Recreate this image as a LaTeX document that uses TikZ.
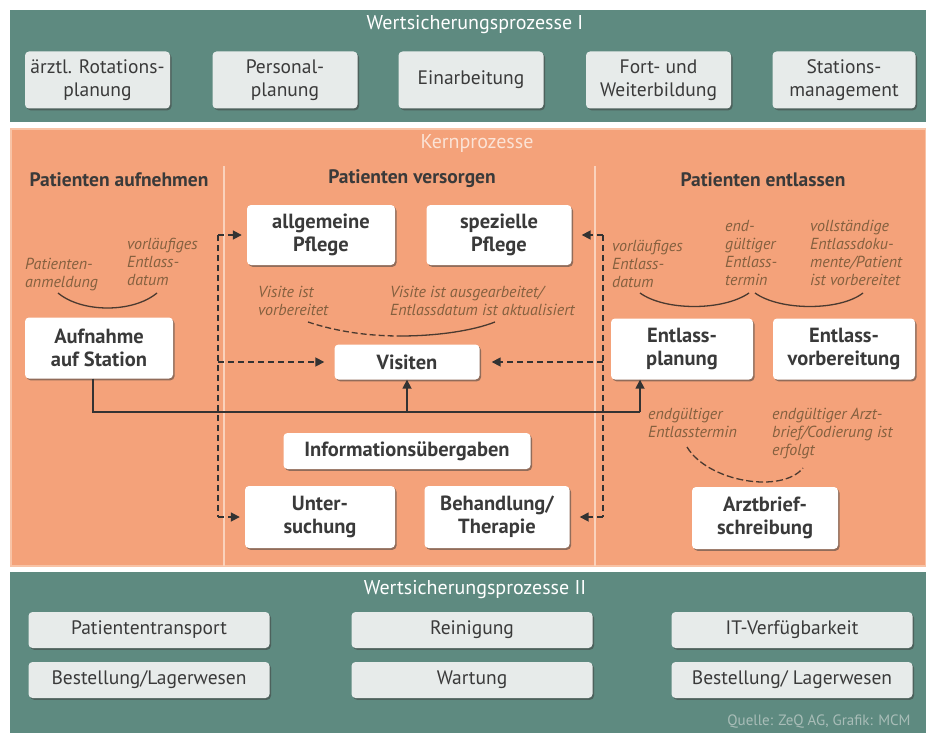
\documentclass[tikz,border=0pt]{standalone}
\usepackage{fontspec}
\setmainfont{PT Sans}
\usetikzlibrary{arrows.meta,shadows}
\definecolor{bandteal}{HTML}{5E8A80}
\definecolor{coreorange}{HTML}{F4A27A}
\definecolor{coreedge}{HTML}{F8C3A6}
\definecolor{sepcol}{HTML}{FAD2BC}
\definecolor{boxgray}{HTML}{E7EBEA}
\definecolor{txtdark}{HTML}{3A3A3A}
\definecolor{lblcol}{HTML}{84603F}
\definecolor{linedark}{HTML}{333333}
\definecolor{arccol}{HTML}{4A3A30}
\definecolor{kerncol}{HTML}{FBE3D6}
\definecolor{srccol}{HTML}{A9BDB8}
\begin{document}
\begin{tikzpicture}[x=1pt,y=-1pt,
  box/.style={rounded corners=4pt, align=center, inner sep=0pt, text=txtdark,
    drop shadow={shadow xshift=1.5pt, shadow yshift=-1.8pt, opacity=0.55, fill=black!75}},
  graybox/.style={box, fill=boxgray, font=\fontsize{19.5}{23}\selectfont},
  lowbox/.style={box, fill=boxgray, font=\fontsize{19.5}{22}\selectfont, minimum width=241pt, minimum height=36pt},
  whitebox/.style={box, fill=white, font=\bfseries\fontsize{20.5}{23}\selectfont},
  lbl/.style={font=\itshape\fontsize{16}{18}\selectfont, text=lblcol, align=left, inner sep=0pt, anchor=north west},
  head/.style={font=\bfseries\fontsize{19.5}{22}\selectfont, text=txtdark},
  titl/.style={font=\fontsize{20}{22}\selectfont},
  dline/.style={dashed, dash pattern=on 6pt off 4pt, line width=1.7pt, draw=linedark},
  sline/.style={line width=1.7pt, draw=linedark},
  arcline/.style={line width=1.3pt, draw=arccol},
  arr/.style={-{Triangle[length=9pt,width=9pt]}}
]
\useasboundingbox (0,0) rectangle (926,733);
\fill[white] (0,0) rectangle (926,733);
% bands
\fill[bandteal] (10,10) rectangle (926,122);
\fill[coreorange, draw=coreedge, line width=2pt] (11,129) rectangle (926,566);
\fill[bandteal] (10,572) rectangle (926,733);
% separators
\draw[sepcol, line width=2pt] (224,166) -- (224,566);
\draw[sepcol, line width=2pt] (595,166) -- (595,566);

% titles
\node[titl, text=white] (wp1) at (475,25) {Wertsicherungsprozesse I};
\node[titl, text=kerncol] (kern) at (477,144) {Kernprozesse};
\node[titl, text=white] (wp2) at (475,590) {Wertsicherungsprozesse II};
\node[text=srccol, font=\fontsize{15}{17}\selectfont] (src) at (819,722) {Quelle: ZeQ AG, Grafik: MCM};

% top boxes
\node[graybox, minimum width=145pt, minimum height=57pt] (t1) at (97.5,80) {ärztl. Rotations-\\planung};
\node[graybox, minimum width=145pt, minimum height=57pt] (t2) at (285,80) {Personal-\\planung};
\node[graybox, minimum width=145pt, minimum height=57pt] (t3) at (471,80) {Einarbeitung};
\node[graybox, minimum width=145pt, minimum height=57pt] (t4) at (658.5,80) {Fort- und\\Weiterbildung};
\node[graybox, minimum width=143pt, minimum height=57pt] (t5) at (844,80) {Stations-\\management};

% headings
\node[head] (h1) at (119,180) {Patienten aufnehmen};
\node[head] (h2) at (412,179) {Patienten versorgen};
\node[head] (h3) at (763,180) {Patienten entlassen};

% core boxes
\node[whitebox, minimum width=148pt, minimum height=61pt] (aufnahme) at (99,348) {Aufnahme\\auf Station};
\node[whitebox, minimum width=148pt, minimum height=60pt] (allg) at (321,235) {allgemeine\\Pflege};
\node[whitebox, minimum width=145pt, minimum height=60pt] (spez) at (499,235) {spezielle\\Pflege};
\node[whitebox, minimum width=145pt, minimum height=35pt] (visiten) at (407,362) {Visiten};
\node[whitebox, minimum width=247pt, minimum height=36pt] (info) at (407,451) {Informationsübergaben};
\node[whitebox, minimum width=150pt, minimum height=62pt] (unter) at (320,517) {Unter-\\suchung};
\node[whitebox, minimum width=145pt, minimum height=62pt] (behand) at (497,517) {Behandlung/\\Therapie};
\node[whitebox, minimum width=142pt, minimum height=61pt] (entlplan) at (682,349) {Entlass-\\planung};
\node[whitebox, minimum width=142pt, minimum height=61pt] (entlvorb) at (844,349) {Entlass-\\vorbereitung};
\node[whitebox, minimum width=146pt, minimum height=62pt] (arzt) at (765,518) {Arztbrief-\\schreibung};

% italic labels
\node[lbl] (l1) at (25,258) {Patienten-\\anmeldung};
\node[lbl] (l2) at (127,238) {vorläufiges\\Entlass-\\datum};
\node[lbl] (l3) at (258,286) {Visite ist\\vorbereitet};
\node[lbl] (l4) at (390,286) {Visite ist ausgearbeitet/\\Entlassdatum ist aktualisiert};
\node[lbl] (l5) at (612,240) {vorläufiges\\Entlass-\\datum};
\node[lbl] (l6) at (725,220) {end-\\gültiger\\Entlass-\\termin};
\node[lbl] (l7) at (810,220) {vollständige\\Entlassdoku-\\mente/Patient\\ist vorbereitet};
\node[lbl] (l8) at (648,408) {endgültiger\\Entlasstermin};
\node[lbl] (l9) at (772,408) {endgültiger Arzt-\\brief/Codierung ist\\erfolgt};

% arcs
\coordinate (a1s) at (58,293);  \coordinate (a1e) at (157,293);
\draw[arcline] (a1s) .. controls (82,313) and (133,313) .. (a1e);
\coordinate (a2s) at (308,322); \coordinate (a2m) at (400,336); \coordinate (a2e) at (495,322);
\draw[arcline, dashed, dash pattern=on 6pt off 3pt] (a2s) .. controls (338,332) and (370,336) .. (a2m);
\draw[arcline] (a2m) .. controls (436,336) and (472,331) .. (a2e);
\coordinate (a3s) at (640,293); \coordinate (a3e) at (749,293);
\draw[arcline] (a3s) .. controls (665,311) and (723,311) .. (a3e);
\coordinate (a4s) at (755,293); \coordinate (a4e) at (863,293);
\draw[arcline] (a4s) .. controls (780,311) and (840,311) .. (a4e);
\coordinate (a5s) at (687,447); \coordinate (a5e) at (803,468);
\draw[arcline, dashed, dash pattern=on 7pt off 3pt] (a5s) .. controls (708,482) and (782,494) .. (a5e);

% left dashed connector
\coordinate (L1) at (218,235);
\coordinate (L2) at (218,517);
\draw[dline] (L1) -- (L2);
\draw[dline, arr, shorten >=5pt] (L1) -- (allg);
\draw[dline, arr, shorten >=10pt] (L1 |- visiten) -- (visiten);
\draw[dline, arr, shorten >=5pt] (L2) -- (unter);

% right dashed connector
\coordinate (R1) at (603,235);
\coordinate (R2) at (603,517);
\draw[dline] (R1) -- (R2);
\draw[dline, arr, shorten >=10pt] (R1) -- (spez);
\draw[dline, arr, shorten >=12pt] (R1 |- visiten) -- (visiten);
\draw[dline, arr, shorten >=10pt] (R2) -- (behand);

% solid connector
\coordinate (H) at (640,412);
\draw[sline] ([xshift=-6pt]aufnahme.south) |- (H);
\draw[sline, arr] (visiten.south |- H) -- (visiten.south);
\draw[sline, arr] (H) -- (H |- entlplan.south);

% bottom boxes
\node[lowbox] (b1) at (149,630) {Patiententransport};
\node[lowbox] (b2) at (472,630) {Reinigung};
\node[lowbox] (b3) at (792,630) {IT-Verfügbarkeit};
\node[lowbox] (b4) at (149,680) {Bestellung/Lagerwesen};
\node[lowbox] (b5) at (472,680) {Wartung};
\node[lowbox] (b6) at (792,680) {Bestellung/ Lagerwesen};
\end{tikzpicture}
\end{document}
